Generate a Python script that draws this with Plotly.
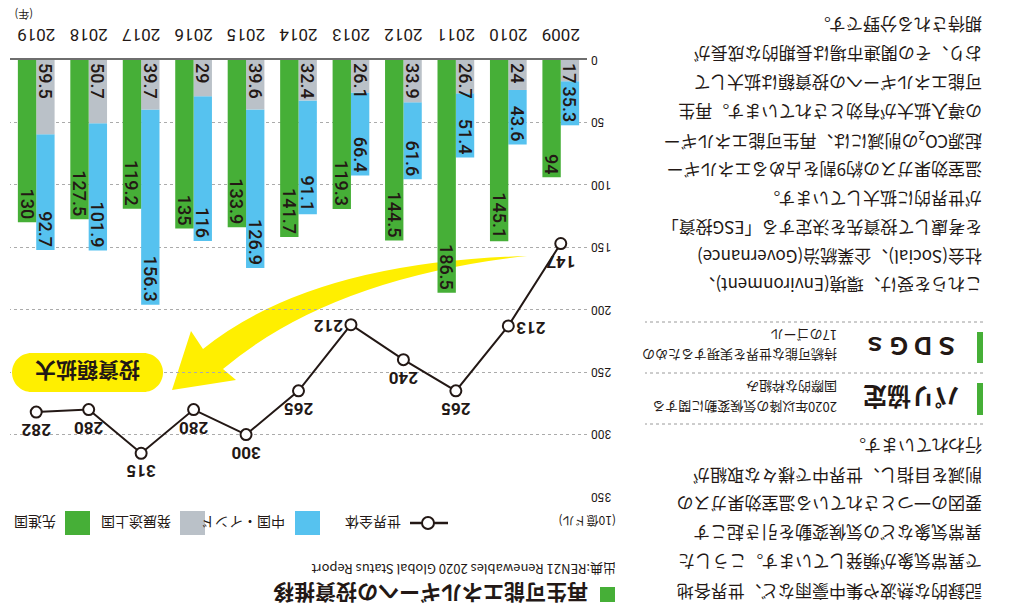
import plotly.graph_objects as go

# ---------------- data ----------------
years = ["2009", "2010", "2011", "2012", "2013", "2014", "2015", "2016", "2017", "2018", "2019"]
developed = [94, 145.1, 186.5, 144.5, 119.3, 141.7, 133.9, 135, 119.2, 127.5, 130]        # 先進国
developing = [17, 24, 26.7, 33.9, 26.1, 32.4, 39.6, 29, 39.7, 50.7, 59.5]                  # 発展途上国
china_india = [35.3, 43.6, 51.4, 61.6, 66.4, 91.1, 126.9, 116, 156.3, 101.9, 92.7]         # 中国・インド
world = [147, 213, 265, 240, 212, 265, 300, 280, 315, 280, 282]                             # 世界全体
world_label_pos = ["top center", "middle left", "top center", "top center", "middle right",
                   "top center", "top center", "top center", "top center", "top center", "top center"]
y_ticks = [0, 50, 100, 150, 200, 250, 300, 350]

legend_names = ["世界全体", "中国・インド", "発展途上国", "先進国"]
title_text = "再生可能エネルギーへの投資推移"
source_text = "出典:REN21 Renewables 2020 Global Status Report"
unit_text = "(10億ドル)"
year_unit = "(年)"
callout_text = "投資額拡大"

para1 = [
    "記録的な熱波や集中豪雨など、世界各地",
    "で異常気象が頻発しています。こうした",
    "異常気象などの気候変動を引き起こす",
    "要因の一つとされている温室効果ガスの",
    "削減を目指し、世界中で様々な取組が",
    "行われています。",
]
para2 = [
    "これらを受け、環境(Environment)、",
    "社会(Social)、企業統治(Governance)",
    "を考慮して投資先を決定する「ESG投資」",
    "が世界的に拡大しています。",
    "温室効果ガスの約9割を占めるエネルギー",
    "起源CO<sub>2</sub>の削減には、再生可能エネルギー",
    "の導入拡大が有効とされています。再生",
    "可能エネルギーへの投資額は拡大して",
    "おり、その関連市場は長期的な成長が",
    "期待される分野です。",
]
boxes = [
    ("パリ協定", ["2020年以降の気候変動に関する", "国際的な枠組み"]),
    ("ＳＤＧｓ", ["持続可能な世界を実現するための", "17のゴール"]),
]

# ---------------- style ----------------
W, H = 1011, 608
GREEN = "#46AF37"
GREY = "#BAC1C8"
BLUE = "#56C2EF"
YELLOW = "#FFEF00"
INK = "#231815"
NUM = "Roboto"
JP = "Noto Sans CJK JP"


def px(X):
    return X / W


def py(Y):
    return 1 - Y / H


def path(points_cmds):
    out = []
    for cmd, pts in points_cmds:
        s = cmd
        if pts:
            s += " " + " ".join(f"{px(X):.5f},{py(Y):.5f}" for X, Y in pts)
        out.append(s)
    return " ".join(out)


fig = go.Figure()

fmt = lambda v: f"{v:g}"

bar_common = dict(
    x=years, width=0.35, textposition="inside", textangle=-90, constraintext="none",
    textfont=dict(family=NUM, size=18, color=INK, weight=500), hoverinfo="skip",
    showlegend=False, marker_line_width=0,
)
fig.add_trace(go.Bar(y=china_india, base=developing, offset=-0.35, marker_color=BLUE,
                     text=[fmt(v) for v in china_india], insidetextanchor="end",
                     name="中国・インド", **bar_common))
fig.add_trace(go.Bar(y=developing, offset=-0.35, marker_color=GREY,
                     text=[fmt(v) for v in developing], insidetextanchor="start",
                     name="発展途上国", **bar_common))
fig.add_trace(go.Bar(y=developed, offset=0.0, marker_color=GREEN,
                     text=[fmt(v) for v in developed], insidetextanchor="end",
                     name="先進国", **bar_common))
fig.add_trace(go.Scatter(
    x=years, y=world, mode="lines+markers+text", name="世界全体",
    line=dict(color=INK, width=2),
    marker=dict(size=11, color="white", line=dict(color=INK, width=2)),
    text=[fmt(v) for v in world], textposition=world_label_pos,
    textfont=dict(family=NUM, size=17, color=INK, weight="bold"),
    showlegend=False, hoverinfo="skip", cliponaxis=False,
))

fig.update_layout(
    width=W, height=H, margin=dict(l=0, r=0, t=0, b=0, autoexpand=False),
    paper_bgcolor="white", plot_bgcolor="white",
    barmode="overlay",
    xaxis=dict(domain=[px(424), px(1001)], type="category", range=[-0.5, 10.5],
               automargin=False,
               showgrid=False, showline=True, linecolor="#6e6e6e", linewidth=1.5,
               ticks="", ticklabelstandoff=9,
               tickfont=dict(family=NUM, size=17, color=INK)),
    yaxis=dict(domain=[1 - 548 / H, 1 - 111 / H], range=[0, 350], tickvals=y_ticks,
               automargin=False,
               showgrid=True, gridcolor="#ababab", griddash="dot", gridwidth=1,
               zeroline=False, showline=False, ticks="", ticklabelstandoff=3,
               tickfont=dict(family=NUM, size=12, color=INK)),
)

shapes = []
annotations = []

# yellow curved arrow
arrow = path([
    ("M", [(484, 352)]),
    ("Q", [(700, 346), (808, 259)]),
    ("L", [(820, 277)]),
    ("L", [(839, 218)]),
    ("L", [(775, 228)]),
    ("L", [(788, 239)]),
    ("Q", [(680, 330), (484, 352)]),
    ("Z", []),
])
shapes.append(dict(type="path", xref="paper", yref="paper", path=arrow,
                   fillcolor=YELLOW, line=dict(width=0), layer="between"))

# callout pill
X0, X1, Y0, Y1 = 848, 999, 216, 255
r = (Y1 - Y0) / 2
k = 0.5523 * r
Ym = (Y0 + Y1) / 2
pill = path([
    ("M", [(X0 + r, Y0)]),
    ("L", [(X1 - r, Y0)]),
    ("C", [(X1 - r + k, Y0), (X1, Ym - k), (X1, Ym)]),
    ("C", [(X1, Ym + k), (X1 - r + k, Y1), (X1 - r, Y1)]),
    ("L", [(X0 + r, Y1)]),
    ("C", [(X0 + r - k, Y1), (X0, Ym + k), (X0, Ym)]),
    ("C", [(X0, Ym - k), (X0 + r - k, Y0), (X0 + r, Y0)]),
    ("Z", []),
])
shapes.append(dict(type="path", xref="paper", yref="paper", path=pill,
                   fillcolor=YELLOW, line=dict(width=0), layer="above"))
annotations.append(dict(xref="paper", yref="paper", x=px(923), y=py(236), text=callout_text,
                        showarrow=False, xanchor="center", yanchor="middle",
                        font=dict(family=JP, size=21, color=INK, weight="bold")))

# title & source
shapes.append(dict(type="rect", xref="paper", yref="paper", x0=px(396), x1=px(411),
                   y0=py(6), y1=py(21), fillcolor=GREEN, line=dict(width=0)))
annotations.append(dict(xref="paper", yref="paper", x=px(421), y=py(14), text=title_text,
                        showarrow=False, xanchor="left", yanchor="middle",
                        font=dict(family=JP, size=21, color=INK, weight="bold")))
annotations.append(dict(xref="paper", yref="paper", x=px(393), y=py(38), text=source_text,
                        showarrow=False, xanchor="left", yanchor="middle",
                        font=dict(family=JP, size=13, color=INK)))

# legend (custom)
legend_y = 85
annotations.append(dict(xref="paper", yref="paper", x=px(393), y=py(86), text=unit_text,
                        showarrow=False, xanchor="left", yanchor="middle",
                        font=dict(family=JP, size=12, color=INK)))
shapes.append(dict(type="line", xref="paper", yref="paper", x0=px(563), x1=px(601),
                   y0=py(legend_y), y1=py(legend_y), line=dict(color=INK, width=2.5)))
shapes.append(dict(type="circle", xref="paper", yref="paper", x0=px(577), x1=px(589),
                   y0=py(legend_y - 6), y1=py(legend_y + 6), fillcolor="white",
                   line=dict(color=INK, width=2)))
legend_text_x = [608, 724, 838, 953]
legend_sq = [(691, BLUE), (806, GREY), (921, GREEN)]
for name, lx in zip(legend_names, legend_text_x):
    annotations.append(dict(xref="paper", yref="paper", x=px(lx), y=py(legend_y), text=name,
                            showarrow=False, xanchor="left", yanchor="middle",
                            font=dict(family=JP, size=14, color=INK)))
for sx, col in legend_sq:
    shapes.append(dict(type="rect", xref="paper", yref="paper", x0=px(sx), x1=px(sx + 25),
                       y0=py(legend_y - 12), y1=py(legend_y + 12), fillcolor=col,
                       line=dict(width=0)))

# year unit
annotations.append(dict(xref="paper", yref="paper", x=px(998), y=py(593), text=year_unit,
                        showarrow=False, xanchor="right", yanchor="middle",
                        font=dict(family=JP, size=11, color=INK)))

# article text column
for i, line in enumerate(para1):
    annotations.append(dict(xref="paper", yref="paper", x=px(27), y=py(16 + 29 * i), text=line,
                            showarrow=False, xanchor="left", yanchor="middle",
                            font=dict(family=JP, size=17, color=INK)))
for i, line in enumerate(para2):
    annotations.append(dict(xref="paper", yref="paper", x=px(27), y=py(322 + 28.9 * i), text=line,
                            showarrow=False, xanchor="left", yanchor="middle",
                            font=dict(family=JP, size=17, color=INK)))

for Yd in [184, 235, 286]:
    shapes.append(dict(type="line", xref="paper", yref="paper", x0=px(28), x1=px(366),
                       y0=py(Yd), y1=py(Yd), line=dict(color="#9a9a9a", width=1, dash="dot")))

box_y = [(193, 225), (245, 276)]
for (head, sub), (b0, b1) in zip(boxes, box_y):
    shapes.append(dict(type="rect", xref="paper", yref="paper", x0=px(28), x1=px(34),
                       y0=py(b0), y1=py(b1), fillcolor=GREEN, line=dict(width=0)))
    annotations.append(dict(xref="paper", yref="paper", x=px(100), y=py((b0 + b1) / 2), text=head,
                            showarrow=False, xanchor="center", yanchor="middle",
                            font=dict(family=JP, size=24, color=INK, weight="bold")))
    for j, s in enumerate(sub):
        annotations.append(dict(xref="paper", yref="paper", x=px(172), y=py(b0 + 7 + 20 * j), text=s,
                                showarrow=False, xanchor="left", yanchor="middle",
                                font=dict(family=JP, size=13, color=INK)))

fig.update_layout(shapes=shapes, annotations=annotations)

rotate_js = (
    "document.body.style.margin='0';"
    "var gd=document.getElementById('{plot_id}');"
    "gd.style.transformOrigin='50% 50%';"
    "gd.style.transform='rotate(180deg)';"
)
fig.write_html("out.html", post_script=rotate_js, config={"displayModeBar": False})
